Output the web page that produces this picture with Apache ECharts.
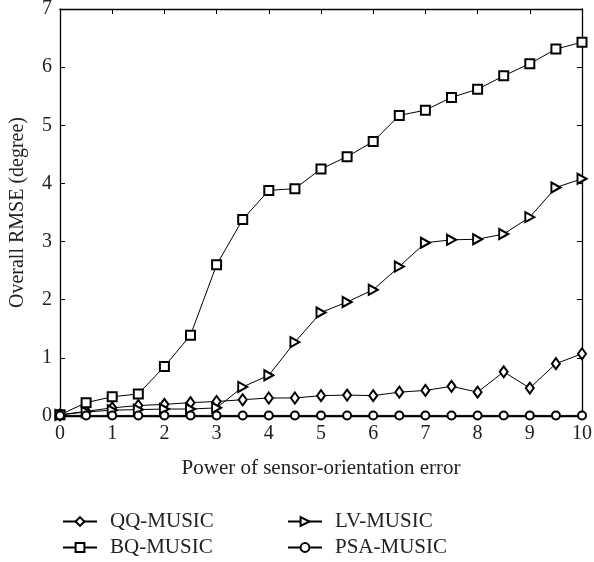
<!DOCTYPE html>
<html><head><meta charset="utf-8">
<script src="https://cdn.jsdelivr.net/npm/echarts@6/dist/echarts.min.js"></script>
<style>html,body{margin:0;padding:0;background:#fff}#c{width:594px;height:562px}</style>
</head><body><div id="c"></div>
<script>
const xValues = [0,0.5,1,1.5,2,2.5,3,3.5,4,4.5,5,5.5,6,6.5,7,7.5,8,8.5,9,9.5,10];
const qqMusic = [0.02,0.08,0.14,0.18,0.20,0.23,0.25,0.28,0.31,0.31,0.35,0.36,0.35,0.41,0.44,0.51,0.41,0.76,0.48,0.90,1.07];
const bqMusic = [0.02,0.23,0.33,0.38,0.85,1.39,2.60,3.38,3.88,3.91,4.25,4.46,4.72,5.17,5.26,5.48,5.62,5.85,6.06,6.31,6.43];
const lvMusic = [0.02,0.07,0.10,0.11,0.12,0.12,0.14,0.50,0.70,1.27,1.78,1.96,2.17,2.57,2.98,3.03,3.04,3.13,3.42,3.93,4.08];
const psaMusic = [0.01,0.01,0.01,0.01,0.01,0.01,0.01,0.01,0.01,0.01,0.01,0.01,0.01,0.01,0.01,0.01,0.01,0.01,0.01,0.01,0.01];
const seriesNames = ['QQ-MUSIC','BQ-MUSIC','LV-MUSIC','PSA-MUSIC'];
const xTicks = [0,1,2,3,4,5,6,7,8,9,10];
const yTicks = [0,1,2,3,4,5,6,7];

const font = 'Liberation Serif';
const pair = arr => xValues.map((x,i)=>[x,arr[i]]);
const baseSeries = (name, data, symbol, size, rot) => ({
  name, type:'line', data: pair(data), symbol, symbolSize: size, symbolRotate: rot||0,
  lineStyle:{color:'#000', width:1}, itemStyle:{color:'#000', borderColor:'#000', borderWidth:1},
  showAllSymbol:true, animation:false
});
const axisCommon = {
  axisLine:{show:true, onZero:false, lineStyle:{color:'#000', width:1.3}},
  axisTick:{show:true, inside:true, length:5, lineStyle:{color:'#000'}},
  splitLine:{show:false}
};
const labelStyle = {fontFamily:font, fontSize:20, color:'#222', margin:8};
const legendText = {fontFamily:font, fontSize:21, color:'#222', lineHeight:20, padding:[0,0,0,8]};
const mkLegend = (name, left, top) => ({
  data:[name], orient:'horizontal', left, top, itemWidth:34, itemHeight:11, padding:0,
  textStyle:legendText
});
const chart = echarts.init(document.getElementById('c'));
chart.setOption({
  backgroundColor:'#fff',
  animation:false,
  grid:{left:60, right:12, top:9, bottom:146, containLabel:false, outerBoundsMode:'none'},
  xAxis:[Object.assign({type:'value', min:xTicks[0], max:xTicks[xTicks.length-1], interval:1,
    name:'Power of sensor-orientation error', nameLocation:'middle', nameGap:42,
    nameTextStyle:{fontFamily:font, fontSize:21, color:'#222'},
    axisLabel:labelStyle}, axisCommon),
   Object.assign({type:'value', position:'top', min:0, max:10, interval:1, axisLabel:{show:false}}, axisCommon)],
  yAxis:[Object.assign({type:'value', min:yTicks[0], max:yTicks[yTicks.length-1], interval:1,
    name:'Overall RMSE (degree)', nameLocation:'middle', nameGap:32, nameRotate:90,
    nameTextStyle:{fontFamily:font, fontSize:20, color:'#222'},
    axisLabel:labelStyle}, axisCommon),
   Object.assign({type:'value', position:'right', min:0, max:7, interval:1, axisLabel:{show:false}}, axisCommon)],
  legend:[
    mkLegend(seriesNames[0], 62, 511),
    mkLegend(seriesNames[1], 62, 537),
    mkLegend(seriesNames[2], 287, 511),
    mkLegend(seriesNames[3], 287, 537)
  ],
  series:[
    baseSeries(seriesNames[0], qqMusic, 'emptyDiamond', [8,11]),
    baseSeries(seriesNames[1], bqMusic, 'emptyRect', 9),
    baseSeries(seriesNames[2], lvMusic, 'emptyTriangle', [10,9], -90),
    baseSeries(seriesNames[3], psaMusic, 'emptyCircle', 8)
  ]
});
</script></body></html>
